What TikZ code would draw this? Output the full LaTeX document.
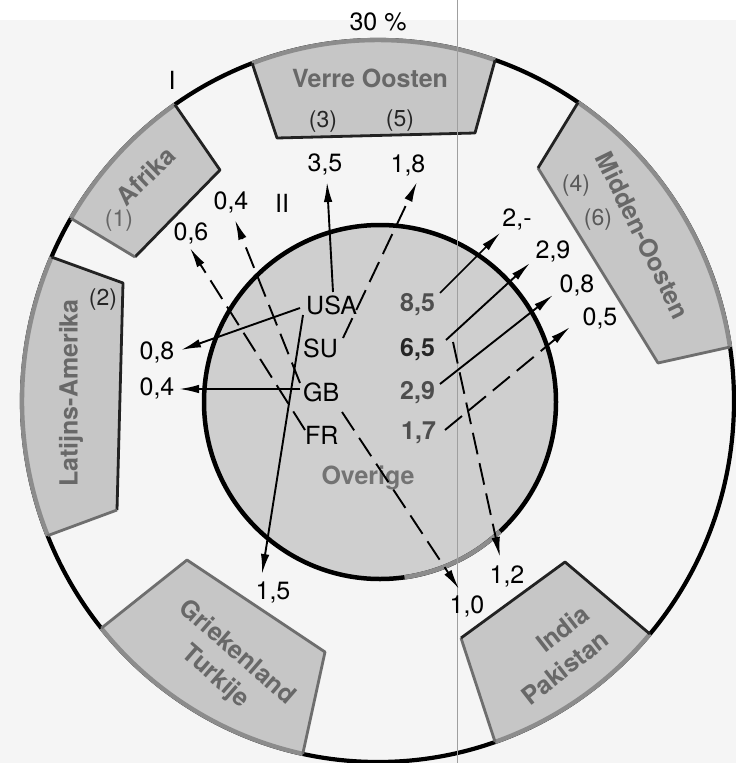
\documentclass[tikz,border=0pt]{standalone}
\usepackage{fontspec}
\setmainfont{TeX Gyre Heros}
\usetikzlibrary{arrows.meta}
\definecolor{bgcol}{HTML}{F5F5F5}
\definecolor{boxfill}{HTML}{C6C6C6}
\definecolor{circfill}{HTML}{CFCFCF}
\definecolor{boxtext}{HTML}{686868}
\definecolor{numtext}{HTML}{4E4E4E}
\definecolor{arcgray}{HTML}{8C8C8C}
\definecolor{edgedark}{HTML}{222222}
\definecolor{edgegray}{HTML}{6E6E6E}
\begin{document}
\begin{tikzpicture}[x=1pt,y=-1pt,
  lbl/.style={font=\fontsize{25}{27}\selectfont, inner sep=0pt},
  reg/.style={font=\fontsize{25}{32}\selectfont\bfseries, text=boxtext, inner sep=0pt},
  fn/.style={font=\fontsize{23}{25}\selectfont, inner sep=0pt},
  num/.style={font=\fontsize{25}{27}\selectfont\bfseries, text=numtext, inner sep=0pt, anchor=west},
  cty/.style={font=\fontsize{25}{27}\selectfont, inner sep=0pt, anchor=west},
  arr/.style={line width=1.9pt, -{Latex[length=20pt,width=8.5pt]}},
  dsh/.style={dash pattern=on 22pt off 9pt},
  boxarc/.style={draw=arcgray, line width=4.4pt},
  boxedge/.style={draw=edgedark, line width=2.8pt, line join=round},
  boxedgeg/.style={draw=edgegray, line width=2.8pt, line join=round}]

\useasboundingbox (0,0) rectangle (736,763);
\fill[white] (0,0) rectangle (736,763);
\fill[bgcol] (0,20) rectangle (736,763);

% outer ring
\draw[line width=4.2pt] (378,401) ellipse [x radius=356, y radius=361];

% ---- region boxes ----
% Verre Oosten
\coordinate (vo1) at ({378+356*cos(-110.7)},{401+361*sin(-110.7)});
\coordinate (vo2) at ({378+356*cos(-70.8)},{401+361*sin(-70.8)});
\coordinate (vo3) at (475,133);
\coordinate (vo4) at (277,138);
\fill[boxfill] plot[domain=-110.7:-70.8,samples=30,variable=\t] ({378+356*cos(\t)},{401+361*sin(\t)}) -- (vo3) -- (vo4) -- cycle;
\draw[boxarc] plot[domain=-110.7:-70.8,samples=30,variable=\t] ({378+356*cos(\t)},{401+361*sin(\t)});
\draw[boxedge] (vo2) -- (vo3) -- (vo4) -- (vo1);

% Afrika
\coordinate (af1) at ({378+356*cos(-149.6)},{401+361*sin(-149.6)});
\coordinate (af2) at ({378+356*cos(-124.8)},{401+361*sin(-124.8)});
\coordinate (af3) at (220,170);
\coordinate (af4) at (135,257);
\fill[boxfill] plot[domain=-149.6:-124.8,samples=30,variable=\t] ({378+356*cos(\t)},{401+361*sin(\t)}) -- (af3) -- (af4) -- cycle;
\draw[boxarc] plot[domain=-149.6:-124.8,samples=30,variable=\t] ({378+356*cos(\t)},{401+361*sin(\t)});
\draw[boxedge] (af2) -- (af3) -- (af4);
\draw[boxedgeg] (af4) -- (af1);

% Latijns-Amerika
\coordinate (la1) at ({378+356*cos(158.1)},{401+361*sin(158.1)});
\coordinate (la2) at ({378+356*cos(203.5)},{401+361*sin(203.5)});
\coordinate (la3) at (123,283);
\coordinate (la4) at (117,510);
\fill[boxfill] plot[domain=158.1:203.5,samples=40,variable=\t] ({378+356*cos(\t)},{401+361*sin(\t)}) -- (la3) -- (la4) -- cycle;
\draw[boxarc] plot[domain=158.1:203.5,samples=40,variable=\t] ({378+356*cos(\t)},{401+361*sin(\t)});
\draw[boxedge] (la2) -- (la3) -- (la4);
\draw[boxedgeg] (la4) -- (la1);

% Midden-Oosten
\coordinate (mo1) at ({378+356*cos(-55.8)},{401+361*sin(-55.8)});
\coordinate (mo2) at ({378+356*cos(-8.6)},{401+361*sin(-8.6)});
\coordinate (mo3) at (658,363);
\coordinate (mo4) at (538,168);
\fill[boxfill] plot[domain=-55.8:-8.6,samples=40,variable=\t] ({378+356*cos(\t)},{401+361*sin(\t)}) -- (mo3) -- (mo4) -- cycle;
\draw[boxarc] plot[domain=-55.8:-8.6,samples=40,variable=\t] ({378+356*cos(\t)},{401+361*sin(\t)});
\draw[boxedgeg] (mo2) -- (mo3) -- (mo4);
\draw[boxedge] (mo4) -- (mo1);

% Griekenland Turkije
\coordinate (gt1) at ({378+356*cos(102.2)},{401+361*sin(102.2)});
\coordinate (gt2) at ({378+356*cos(141.0)},{401+361*sin(141.0)});
\coordinate (gt3) at (187,560);
\coordinate (gt4) at (325,652);
\fill[boxfill] plot[domain=102.2:141.0,samples=40,variable=\t] ({378+356*cos(\t)},{401+361*sin(\t)}) -- (gt3) -- (gt4) -- cycle;
\draw[boxarc] plot[domain=102.2:141.0,samples=40,variable=\t] ({378+356*cos(\t)},{401+361*sin(\t)});
\draw[boxedgeg] (gt2) -- (gt3) -- (gt4) -- (gt1);

% India Pakistan
\coordinate (ip1) at ({378+356*cos(40.2)},{401+361*sin(40.2)});
\coordinate (ip2) at ({378+356*cos(70.8)},{401+361*sin(70.8)});
\coordinate (ip3) at (461,638);
\coordinate (ip4) at (565,562);
\fill[boxfill] plot[domain=40.2:70.8,samples=30,variable=\t] ({378+356*cos(\t)},{401+361*sin(\t)}) -- (ip3) -- (ip4) -- cycle;
\draw[boxarc] plot[domain=40.2:70.8,samples=30,variable=\t] ({378+356*cos(\t)},{401+361*sin(\t)});
\draw[boxedgeg] (ip2) -- (ip3);
\draw[boxedge] (ip3) -- (ip4) -- (ip1);

% ---- inner circle ----
\draw[line width=4.5pt, fill=circfill] (380,402) ellipse [x radius=176, y radius=177];
\draw[arcgray, line width=4.5pt] plot[domain=47:82,samples=20,variable=\t] ({380+176*cos(\t)},{402+177*sin(\t)});

% scan fold line
\draw[gray!75, line width=1pt] (457,0) -- (457,763);

% ---- labels inside the circle ----
\node[cty] (usa) at (306,305) {USA};
\node[cty] (su)  at (303,348) {SU};
\node[cty] (gb)  at (303,392) {GB};
\node[cty] (fr)  at (305,435) {FR};
\node[num] (n85) at (400,305) {8,5};
\node[num, text=black!85] (n65) at (400,350) {6,5};
\node[num] (n29) at (400,393) {2,9};
\node[num] (n17) at (401,433) {1,7};
\node[reg, text=black!55] (ov) at (368,478) {Overige};

% ---- connector end points ----
\coordinate (s35) at (333,292);  \coordinate (t35) at (327,182);
\coordinate (s18) at (343,338);  \coordinate (t18) at (417,182);
\coordinate (s08a) at (300,308); \coordinate (t08a) at (181,350);
\coordinate (s04a) at (300,389); \coordinate (t04a) at (179,389);
\coordinate (s15) at (303,315);  \coordinate (t15) at (262,574);
\coordinate (s06) at (305,430);  \coordinate (t06) at (190,248);
\coordinate (s04b) at (300,383); \coordinate (t04b) at (235,220);
\coordinate (s2) at (440,293);   \coordinate (t2) at (500,233);
\coordinate (s29) at (446,340);  \coordinate (t29) at (530,263);
\coordinate (s08b) at (440,384); \coordinate (t08b) at (553,295);
\coordinate (s05) at (445,430);  \coordinate (t05) at (570,327);
\coordinate (s12) at (453,342);  \coordinate (t12) at (500,557);
\coordinate (s10) at (342,412);  \coordinate (t10) at (459,589);

% ---- connectors ----
\draw[arr] (s35) -- (t35);
\draw[arr,dsh] (s18) -- (t18);
\draw[arr] (s08a) -- (t08a);
\draw[arr] (s04a) -- (t04a);
\draw[arr] (s15) -- (t15);
\draw[arr,dsh] (s06) -- (t06);
\draw[arr,dsh] (s04b) -- (t04b);
\draw[arr, line width=1.5pt] (s2) -- (t2);
\draw[arr] (s29) -- (t29);
\draw[arr] (s08b) -- (t08b);
\draw[arr,dsh] (s05) -- (t05);
\draw[arr,dsh] (s12) -- (t12);
\draw[arr,dsh] (s10) -- (t10);

% ---- value labels ----
\node[lbl] (v35) at (325,164) {3,5};
\node[lbl] (v18) at (408,165) {1,8};
\node[lbl] (v08a) at (157,352) {0,8};
\node[lbl] (v04a) at (157,388) {0,4};
\node[lbl] (v15) at (273,592) {1,5};
\node[lbl] (v06) at (191,233) {0,6};
\node[lbl] (v04b) at (231,202) {0,4};
\node[lbl] (v2) at (517,219) {2,-};
\node[lbl] (v29) at (553,251) {2,9};
\node[lbl] (v08b) at (577,285) {0,8};
\node[lbl] (v05) at (600,318) {0,5};
\node[lbl] (v12) at (507,576) {1,2};
\node[lbl] (v10) at (467,606) {1,0};

\node[lbl] (p30) at (378,22) {30 \%};
\node[lbl] (rI) at (172,80) {I};
\node[lbl] (rII) at (282,203) {II};

% ---- region names ----
\node[reg] (vo) at (370,78) {Verre Oosten};
\node[fn, text=black!85] (f3) at (323,122) {(3)};
\node[fn, text=black!85] (f5) at (400,121) {(5)};
\node[reg, rotate=44] (af) at (146,176) {Afrika};
\node[fn, text=black!60] (f1) at (119,221) {(1)};
\node[reg, rotate=90] (la) at (71,393) {Latijns-Amerika};
\node[fn, text=black!85] (f2) at (103,300) {(2)};
\node[reg, rotate=-64] (mo) at (643,235) {Midden-Oosten};
\node[fn, text=black!65] (f4) at (576,186) {(4)};
\node[fn, text=black!65] (f6) at (598,220) {(6)};
\node[reg, rotate=-41, align=center] (gr) at (226,665) {Griekenland\\Turkije};
\node[reg, rotate=38, align=right] (ind) at (555,655) {India\\Pakistan};
\end{tikzpicture}
\end{document}
